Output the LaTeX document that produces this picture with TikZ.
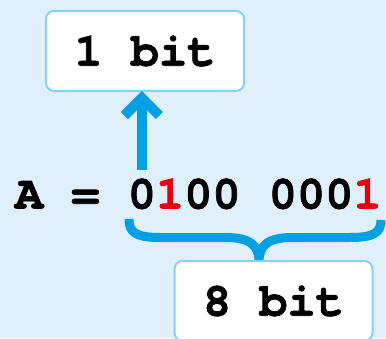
\documentclass[tikz,border=0pt]{standalone}
\usepackage{fontspec}
\usetikzlibrary{arrows.meta}
\newfontfamily\codefont{texgyrecursor-bold.otf}[FakeBold=1.5]
\definecolor{bgblue}{HTML}{DFF0FC}
\definecolor{linkblue}{HTML}{00A0E2}
\definecolor{boxedge}{HTML}{88D0F5}
\definecolor{bitred}{HTML}{E3000F}
\begin{document}
\begin{tikzpicture}[x=1pt,y=-1pt,
  code/.style={font=\codefont\fontsize{47}{47}\selectfont, inner sep=0pt, outer sep=0pt},
  label box/.style={code, draw=boxedge, line width=2pt, fill=white, rounded corners=8pt, minimum width=198pt, minimum height=80pt},
  link/.style={draw=linkblue, line width=10pt},
]
\fill[bgblue] (0,0) rectangle (386,338);
\useasboundingbox (0,0) rectangle (386,338);
% equation
\node[code, anchor=base west] (lhs) at (15,208.5) {A =\phantom{0}};
\node[code, anchor=base west] (d0) at (lhs.base east) {0};
\node[code, anchor=base west, text=bitred] (d1) at (d0.base east) {1};
\node[code, anchor=base west] (mid) at (d1.base east) {00\phantom{0}000};
\node[code, anchor=base west, text=bitred] (d8) at (mid.base east) {1};
% brace
\coordinate (bl) at (129,219);
\coordinate (tip) at (259,262);
\coordinate (br) at (381,220);
\draw[draw=linkblue, line width=9pt]
  (bl) .. controls (129,232) and (135,237.5) .. (160,237.5)
  -- (225,237.5) .. controls (250,237.5) and (259,245) .. (tip)
  .. controls (259,245) and (268,237.5) .. (293,237.5)
  -- (350,237.5) .. controls (375,237.5) and (381,232) .. (br);
% boxes
\node[label box] (box1) at (145,51) {1 bit};
\node[label box] (box8) at (273.5,301) {8 bit};
% arrow
\draw[link, shorten <=9pt, -{Straight Barb[length=17.5pt,width=35pt]}] (d0.north) -- (d0.north |- box1.south);
\end{tikzpicture}
\end{document}
